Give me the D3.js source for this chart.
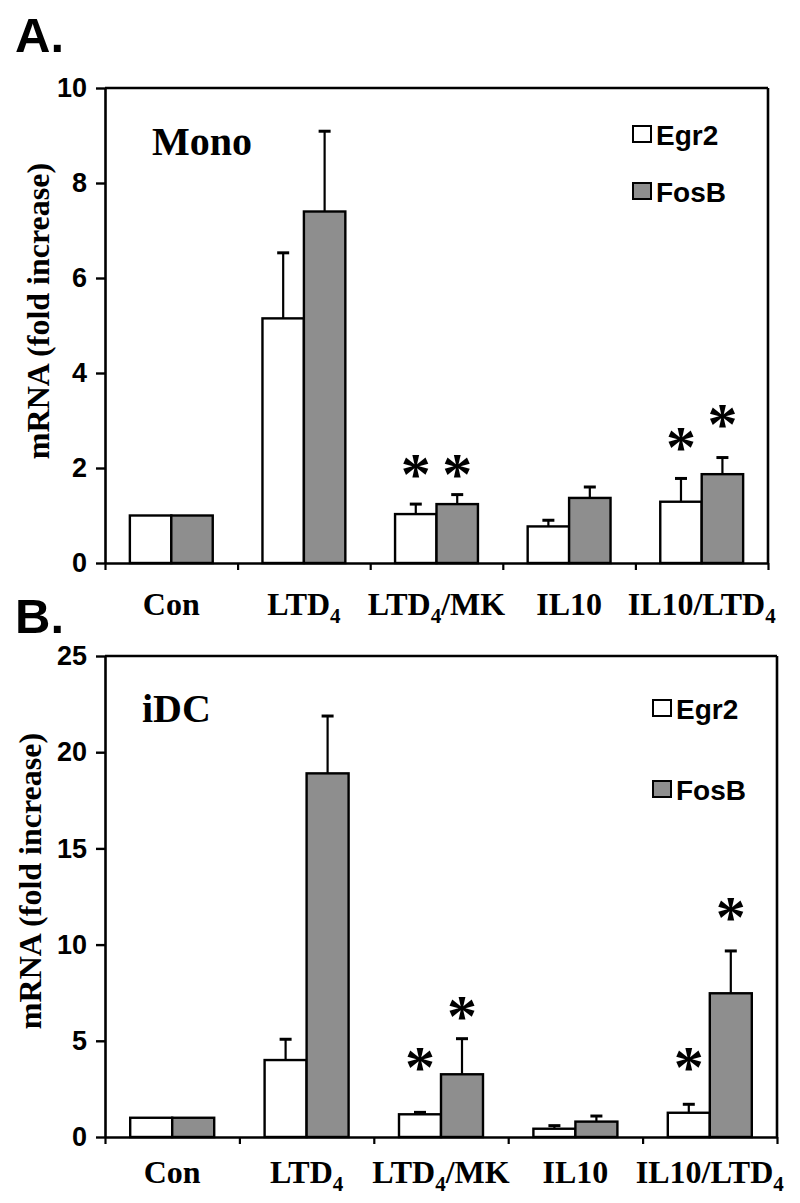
<!DOCTYPE html>
<html>
<head>
<meta charset="utf-8">
<script src="https://cdn.jsdelivr.net/npm/d3@7"></script>
<style>
  html, body { margin: 0; padding: 0; background: #ffffff; }
  svg { display: block; }
</style>
</head>
<body>
<svg id="chart" width="800" height="1203"></svg>
<script>
// ---------- data ----------
const categories = ["Con", "LTD4", "LTD4/MK", "IL10", "IL10/LTD4"];
const series = ["Egr2", "FosB"];

// Panel A: Mono
const monoEgr2 = [1.0, 5.15, 1.03, 0.77, 1.29];
const monoEgr2Err = [0, 1.38, 0.21, 0.13, 0.49];
const monoFosB = [1.0, 7.4, 1.24, 1.37, 1.87];
const monoFosBErr = [0, 1.69, 0.2, 0.23, 0.35];
const monoEgr2Star = [null, null, 2.07, null, 2.63];
const monoFosBStar = [null, null, 2.07, null, 3.12];
const monoTicks = [0, 2, 4, 6, 8, 10];

// Panel B: iDC
const idcEgr2 = [1.0, 4.0, 1.18, 0.43, 1.26];
const idcEgr2Err = [0, 1.08, 0.1, 0.16, 0.44];
const idcFosB = [1.0, 18.9, 3.26, 0.8, 7.47];
const idcFosBErr = [0, 2.98, 1.85, 0.29, 2.2];
const idcEgr2Star = [null, null, 4.1, null, 4.1];
const idcFosBStar = [null, null, 6.77, null, 11.9];
const idcTicks = [0, 5, 10, 15, 20, 25];

const yTitle = "mRNA (fold increase)";

// ---------- styles ----------
const SANS = "'Liberation Sans', Arial, sans-serif";
const SERIF = "'Liberation Serif', 'Times New Roman', serif";
const GRAY = "#8e8e8e";
const fills = { Egr2: "#ffffff", FosB: GRAY };

const svg = d3.select("#chart");
svg.append("rect").attr("width", 800).attr("height", 1203).attr("fill", "#fff");

function drawPanel(cfg) {
  const g = svg.append("g");
  const x = d3.scaleBand().domain(categories).range([cfg.left, cfg.right]).paddingInner(0).paddingOuter(0);
  const xs = d3.scaleBand().domain(series).range([0, x.bandwidth()]).paddingInner(0).paddingOuter(0.6);
  const y = d3.scaleLinear().domain([0, cfg.ticks[cfg.ticks.length - 1]]).range([cfg.bottom, cfg.top]);
  const xb = d3.scaleLinear().domain([0, categories.length]).range([cfg.left, cfg.right]);

  const rows = [];
  categories.forEach((c, i) => {
    rows.push({ c, s: "Egr2", v: cfg.egr2[i], e: cfg.egr2Err[i], star: cfg.egr2Star[i] });
    rows.push({ c, s: "FosB", v: cfg.fosB[i], e: cfg.fosBErr[i], star: cfg.fosBStar[i] });
  });

  // frame (top & right)
  g.append("line").attr("x1", cfg.left).attr("x2", cfg.right).attr("y1", cfg.top).attr("y2", cfg.top)
    .attr("stroke", "#000").attr("stroke-width", 2.6);
  g.append("line").attr("x1", cfg.right).attr("x2", cfg.right).attr("y1", cfg.top).attr("y2", cfg.bottom)
    .attr("stroke", "#000").attr("stroke-width", 2.6);

  // error bars
  const eb = g.append("g");
  rows.filter(d => d.e > 0).forEach(d => {
    const cx = x(d.c) + xs(d.s) + xs.bandwidth() / 2;
    eb.append("line").attr("x1", cx).attr("x2", cx).attr("y1", y(d.v)).attr("y2", y(d.v + d.e))
      .attr("stroke", "#000").attr("stroke-width", 2.2);
    eb.append("line").attr("x1", cx - 6).attr("x2", cx + 6).attr("y1", y(d.v + d.e)).attr("y2", y(d.v + d.e))
      .attr("stroke", "#000").attr("stroke-width", 3);
  });

  // bars
  g.append("g").selectAll("rect").data(rows).join("rect")
    .attr("x", d => x(d.c) + xs(d.s))
    .attr("y", d => y(d.v))
    .attr("width", xs.bandwidth())
    .attr("height", d => y(0) - y(d.v))
    .attr("fill", d => fills[d.s])
    .attr("stroke", "#000").attr("stroke-width", 2.4);

  // asterisks
  g.append("g").selectAll("text").data(rows.filter(d => d.star != null)).join("text")
    .attr("x", d => x(d.c) + xs(d.s) + xs.bandwidth() / 2)
    .attr("y", d => y(d.star) + 29)
    .attr("text-anchor", "middle")
    .attr("font-family", SERIF).attr("font-weight", "bold").attr("font-size", 60)
    .text("*");

  // y axis
  const ya = g.append("g").attr("transform", `translate(${cfg.left},0)`)
    .call(d3.axisLeft(y).tickValues(cfg.ticks).tickSize(9).tickSizeOuter(0).tickPadding(9));
  ya.select(".domain").attr("stroke-width", 2.6);
  ya.selectAll(".tick line").attr("stroke-width", 2.4);
  ya.selectAll(".tick text").attr("font-family", SANS).attr("font-weight", "bold")
    .attr("font-size", 27).attr("fill", "#000");

  // x axis (boundary ticks)
  const xa = g.append("g").attr("transform", `translate(0,${cfg.bottom})`)
    .call(d3.axisBottom(xb).ticks(categories.length).tickSize(7).tickSizeOuter(0).tickFormat(""));
  xa.select(".domain").attr("stroke-width", 2.6);
  xa.selectAll(".tick line").attr("stroke-width", 2.2);

  // category labels with subscripts
  categories.forEach(c => {
    const t = g.append("text")
      .attr("x", x(c) + x.bandwidth() / 2)
      .attr("y", cfg.labelY)
      .attr("text-anchor", "middle")
      .attr("font-family", SERIF).attr("font-weight", "bold").attr("font-size", 32);
    const parts = c.split("LTD4");
    let lowered = false;
    parts.forEach((p, i) => {
      if (p) {
        t.append("tspan").attr("dy", lowered ? -8 : 0).text(p);
        lowered = false;
      }
      if (i < parts.length - 1) {
        t.append("tspan").attr("dy", lowered ? -8 : 0).text("LTD");
        t.append("tspan").attr("font-size", 21).attr("dy", 8).text("4");
        lowered = true;
      }
    });
  });

  // legend
  series.forEach((s, i) => {
    const ly = cfg.legendY[i];
    g.append("rect").attr("x", cfg.legendX).attr("y", ly).attr("width", 18).attr("height", 16)
      .attr("fill", fills[s]).attr("stroke", "#000").attr("stroke-width", 2);
    g.append("text").attr("x", cfg.legendX + 23).attr("y", ly + 19)
      .attr("font-family", SANS).attr("font-weight", "bold").attr("font-size", 28).text(s);
  });

  // inner title
  g.append("text").attr("x", cfg.titleX).attr("y", cfg.titleY)
    .attr("font-family", SERIF).attr("font-weight", "bold").attr("font-size", 40).text(cfg.title);

  // y title
  g.append("text")
    .attr("transform", `translate(${cfg.yTitleX},${cfg.yTitleY}) rotate(-90)`)
    .attr("text-anchor", "middle")
    .attr("font-family", SERIF).attr("font-weight", "bold").attr("font-size", 32).text(yTitle);

  // panel letter
  g.append("text").attr("x", 15).attr("y", cfg.letterY)
    .attr("font-family", SANS).attr("font-weight", "bold").attr("font-size", 49).text(cfg.letter);
}

drawPanel({
  left: 105, right: 768, top: 88, bottom: 563, ticks: monoTicks,
  egr2: monoEgr2, egr2Err: monoEgr2Err, fosB: monoFosB, fosBErr: monoFosBErr,
  egr2Star: monoEgr2Star, fosBStar: monoFosBStar,
  labelY: 615, legendX: 633, legendY: [126, 183],
  title: "Mono", titleX: 152, titleY: 155,
  yTitleX: 49, yTitleY: 311, letter: "A.", letterY: 52
});

drawPanel({
  left: 105, right: 777, top: 656, bottom: 1137, ticks: idcTicks,
  egr2: idcEgr2, egr2Err: idcEgr2Err, fosB: idcFosB, fosBErr: idcFosBErr,
  egr2Star: idcEgr2Star, fosBStar: idcFosBStar,
  labelY: 1183, legendX: 653, legendY: [700, 781],
  title: "iDC", titleX: 142, titleY: 722,
  yTitleX: 41, yTitleY: 881, letter: "B.", letterY: 633
});
</script>
</body>
</html>
